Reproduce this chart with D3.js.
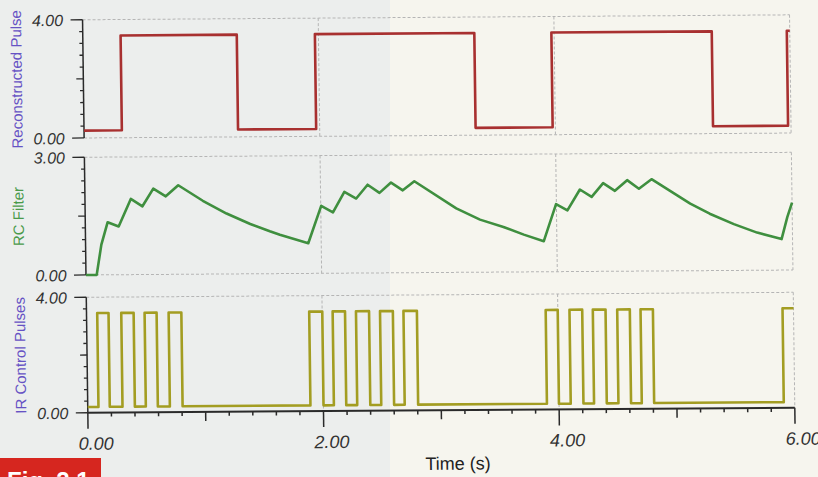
<!DOCTYPE html>
<html>
<head>
<meta charset="utf-8">
<script src="https://cdn.jsdelivr.net/npm/d3@7"></script>
<style>
  body { margin: 0; background: #eceeed; }
  svg { display: block; }
</style>
</head>
<body>
<svg id="viz" width="818" height="477"></svg>
<script>
// time axis
const timeTicks = [0, 2, 4, 6];
const timeTickLabels = ["0.00", "2.00", "4.00", "6.00"];

// panel titles and y ranges (top to bottom)
const panelTitles = ["Reconstructed Pulse", "RC Filter", "IR Control Pulses"];
const panelMax = [4, 3, 4];
const panelTopLabels = ["4.00", "3.00", "4.00"];
const panelBottomLabels = ["0.00", "0.00", "0.00"];

// reconstructed pulse: switching times (starts low)
const reconEdges = [0.321, 1.307, 1.97, 3.323, 3.977, 5.338, 5.975];
const reconLevels = [0.25, 3.46];

// IR control pulses: switching times (starts low)
const irEdges = [0.091, 0.187, 0.295, 0.40, 0.493, 0.595, 0.697, 0.805,
                 1.89, 2.001, 2.089, 2.194, 2.287, 2.398, 2.491, 2.60, 2.69, 2.804,
                 3.897, 3.999, 4.099, 4.207, 4.297, 4.405, 4.504, 4.611, 4.702, 4.807,
                 5.907];
const irLevels = [0.2, 3.45];

// RC filter output
const rcTime = [0, 0.091, 0.134, 0.19, 0.283, 0.389, 0.487, 0.581, 0.686, 0.793,
                1.0, 1.2, 1.4, 1.565, 1.65, 1.89,
                2.004, 2.103, 2.202, 2.302, 2.40, 2.50, 2.599, 2.698, 2.797,
                3.15, 3.35, 3.548, 3.72, 3.889,
                3.997, 4.093, 4.201, 4.30, 4.399, 4.498, 4.603, 4.702, 4.81,
                5.136, 5.3, 5.504, 5.7, 5.907, 5.958, 6.0];
const rcValue = [0, 0, 0.77, 1.34, 1.23, 1.93, 1.74, 2.19, 1.99, 2.27,
                 1.87, 1.54, 1.27, 1.08, 0.99, 0.77,
                 1.72, 1.55, 2.07, 1.90, 2.25, 2.04, 2.30, 2.10, 2.33,
                 1.63, 1.34, 1.15, 0.95, 0.78,
                 1.72, 1.56, 2.09, 1.90, 2.25, 2.05, 2.32, 2.10, 2.34,
                 1.71, 1.45, 1.18, 0.96, 0.79, 1.35, 1.72];

let drawChart = function () {

    let svg = d3.select("#viz");
    let width = +svg.attr("width");
    let height = +svg.attr("height");

    // paper tones of the scan
    svg.append("rect").attr("width", width).attr("height", height).attr("fill", "#eceeed");
    svg.append("rect").attr("x", 390).attr("width", width - 390).attr("height", height).attr("fill", "#f6f5ee");

    // the scan is slightly tilted
    let g = svg.append("g")
        .attr("transform", "rotate(-0.4, 409, 238) translate(409,238) skewX(0.37) translate(-409,-238)");

    let x = d3.scaleLinear().domain([0, 6]).range([85.5, 792.5]);

    let panels = [
        { top: 17.5, bottom: 135.7 },
        { top: 155, bottom: 272.7 },
        { top: 295, bottom: 410.5 }
    ];
    let titleColors = ["#6652c4", "#4a9a4a", "#6652c4"];
    let lineColors = ["#a83030", "#3f8f3f", "#a39d22"];

    let stepPoints = function (edges, levels) {
        let pts = [[0, levels[0]]];
        edges.forEach((e, i) => pts.push([e, levels[(i + 1) % 2]]));
        pts.push([6, levels[edges.length % 2]]);
        return pts;
    };

    let series = [
        { pts: stepPoints(reconEdges, reconLevels), curve: d3.curveStepAfter },
        { pts: rcTime.map((t, i) => [t, rcValue[i]]), curve: d3.curveLinear },
        { pts: stepPoints(irEdges, irLevels), curve: d3.curveStepAfter }
    ];

    panels.forEach((p, k) => {
        let y = d3.scaleLinear().domain([0, panelMax[k]]).range([p.bottom, p.top]);
        let pg = g.append("g");

        // dashed frame and grid
        let dash = (x1, y1, x2, y2) => pg.append("line")
            .attr("x1", x1).attr("y1", y1).attr("x2", x2).attr("y2", y2)
            .attr("stroke", "#b5b5b5").attr("stroke-width", 1)
            .attr("stroke-dasharray", "3,2");
        dash(x(0), p.top, x(6), p.top);
        if (k < 2) dash(x(0), p.bottom, x(6), p.bottom);
        dash(x(6), p.top, x(6), p.bottom);
        [2, 4].forEach(t => dash(x(t), p.top, x(t), p.bottom));

        // y axis
        pg.append("line")
            .attr("x1", x(0)).attr("x2", x(0))
            .attr("y1", p.top).attr("y2", p.bottom)
            .attr("stroke", "#2a2a2a").attr("stroke-width", 1.5);
        d3.range(11).forEach(i => {
            let v = panelMax[k] * i / 10;
            let len = (i === 0 || i === 10) ? 12 : (i === 5 ? 7 : 3.5);
            pg.append("line")
                .attr("x1", x(0) - len).attr("x2", x(0))
                .attr("y1", y(v)).attr("y2", y(v))
                .attr("stroke", "#2a2a2a").attr("stroke-width", 1.3);
        });
        pg.append("text")
            .attr("x", 66).attr("y", y(panelMax[k]) + 6)
            .attr("text-anchor", "end")
            .style("font", "italic 16px 'Liberation Sans', Arial, sans-serif")
            .attr("fill", "#333")
            .text(panelTopLabels[k]);
        pg.append("text")
            .attr("x", 66).attr("y", y(0) + 6)
            .attr("text-anchor", "end")
            .style("font", "italic 16px 'Liberation Sans', Arial, sans-serif")
            .attr("fill", "#333")
            .text(panelBottomLabels[k]);

        // title
        pg.append("text")
            .attr("transform", `translate(24, ${(p.top + p.bottom) / 2}) rotate(-90)`)
            .attr("text-anchor", "middle")
            .style("font", "15px 'Liberation Sans', Arial, sans-serif")
            .attr("fill", titleColors[k])
            .text(panelTitles[k]);

        // data
        let line = d3.line()
            .x(d => x(d[0]))
            .y(d => y(d[1]))
            .curve(series[k].curve);
        pg.append("path")
            .attr("d", line(series[k].pts))
            .attr("fill", "none")
            .attr("stroke", lineColors[k])
            .attr("stroke-width", 2.6)
            .attr("stroke-linejoin", "round");
    });

    // x axis under the bottom panel
    let axisY = panels[2].bottom;
    g.append("line")
        .attr("x1", x(0)).attr("x2", x(6))
        .attr("y1", axisY).attr("y2", axisY)
        .attr("stroke", "#2a2a2a").attr("stroke-width", 2);
    d3.range(31).forEach(i => {
        let t = i * 0.2;
        let len = (i % 10 === 0) ? 16 : (i % 5 === 0 ? 9 : 4);
        g.append("line")
            .attr("x1", x(t)).attr("x2", x(t))
            .attr("y1", axisY).attr("y2", axisY + len)
            .attr("stroke", "#2a2a2a").attr("stroke-width", 1.5);
    });
    timeTicks.forEach((t, i) => {
        g.append("text")
            .attr("x", x(t) + 8).attr("y", axisY + 37)
            .attr("text-anchor", "middle")
            .style("font", "italic 18px 'Liberation Sans', Arial, sans-serif")
            .attr("fill", "#333")
            .text(timeTickLabels[i]);
    });
    g.append("text")
        .attr("x", 455).attr("y", 470)
        .attr("text-anchor", "middle")
        .style("font", "18px 'Liberation Sans', Arial, sans-serif")
        .attr("fill", "#222")
        .text("Time (s)");

    // figure tag, cut off by the page edge
    svg.append("rect")
        .attr("x", 0).attr("y", 458).attr("width", 101).attr("height", 30)
        .attr("fill", "#d6261f");
    svg.append("text")
        .attr("x", 7).attr("y", 489)
        .style("font", "bold 24px 'Liberation Sans', Arial, sans-serif")
        .attr("fill", "#fff")
        .text("Fig. 2.1");
}
drawChart();
</script>
</body>
</html>
